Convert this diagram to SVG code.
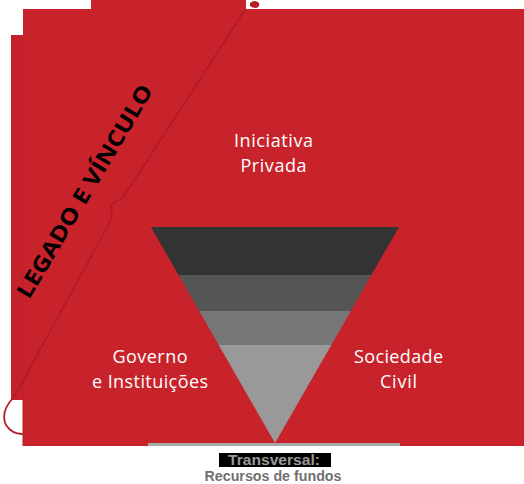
<svg xmlns="http://www.w3.org/2000/svg" width="524" height="484" viewBox="0 0 524 484">
<style>
.lbl{font-family:"Open Sans","Noto Sans","Liberation Sans",sans-serif;font-size:18px;fill:#ffffff;text-anchor:middle}
.tag{font-family:"Liberation Sans",Arial,sans-serif;font-weight:bold;font-size:14px;text-anchor:middle}
.red{fill:#C8222B}
.seam{fill:none;stroke:#B21C25;stroke-width:1.8;stroke-linecap:round}
</style>
<rect width="524" height="484" fill="#ffffff"/>
<g id="background">
<rect class="red" x="91" y="0" width="155" height="12"/>
<rect x="11" y="35" width="14" height="365" fill="#C4212A"/>
<rect class="red" x="23" y="9" width="501" height="437"/>
<line x1="23" y1="35" x2="23" y2="446" stroke="#BC1F28" stroke-width="1"/>
<path d="M250 3 q5 -4 9 0 q1 4 -3 5 q-4 0 -6 -2z" fill="#B81E27"/>
</g>
<g id="connectors">
<path class="seam" d="M245 10 L128 190 Q122 200 113 203 Q110 206 112 212 L110 222 L30 368 Q22 385 13 398 Q0 412 6 425 Q12 434 22 434"/>
</g>
<g id="funnel">
<polygon points="151,227 399,227 371.4,275 178.6,275" fill="#333333"/>
<polygon points="178.6,275 371.4,275 350.8,311 199.2,311" fill="#555555"/>
<polygon points="199.2,311 350.8,311 331.3,345 218.7,345" fill="#777777"/>
<polygon points="218.7,345 331.3,345 275,443" fill="#999999"/>
<rect x="148" y="443" width="252" height="3" fill="#A8A8A8"/>
</g>
<g id="node-iniciativa">
<text class="lbl" x="273.5" y="147" textLength="79" lengthAdjust="spacing">Iniciativa</text>
<text class="lbl" x="273.5" y="172" textLength="66" lengthAdjust="spacing">Privada</text>
</g>
<g id="node-governo">
<text class="lbl" x="150" y="363" textLength="75" lengthAdjust="spacing">Governo</text>
<text class="lbl" x="150" y="388" textLength="116" lengthAdjust="spacing">e Instituições</text>
</g>
<g id="node-sociedade">
<text class="lbl" x="398.5" y="363" textLength="89" lengthAdjust="spacing">Sociedade</text>
<text class="lbl" x="398.5" y="388" textLength="37" lengthAdjust="spacing">Civil</text>
</g>
<g id="node-legado">
<text transform="translate(29,300) rotate(-59.3)" font-family="'Open Sans','Liberation Sans',sans-serif" font-weight="bold" font-size="22" fill="#000000" textLength="244" lengthAdjust="spacingAndGlyphs">LEGADO E VÍNCULO</text>
</g>
<g id="node-transversal">
<rect x="219" y="453" width="112" height="14" fill="#000000"/>
<text class="tag" x="274" y="465" fill="#9A9A9A" textLength="92" lengthAdjust="spacingAndGlyphs">Transversal:</text>
<text class="tag" x="273" y="481" fill="#707070" textLength="137" lengthAdjust="spacingAndGlyphs">Recursos de fundos</text>
</g>
</svg>
